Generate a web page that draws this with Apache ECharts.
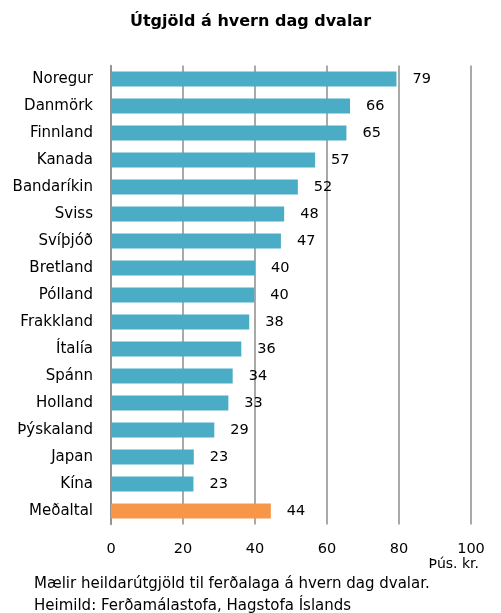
<!DOCTYPE html>
<html>
<head>
<meta charset="utf-8">
<script src="https://cdn.jsdelivr.net/npm/echarts@6/dist/echarts.min.js"></script>
<style>
  html, body { margin: 0; padding: 0; background: #fff; }
  #chart { width: 501px; height: 613px; }
</style>
</head>
<body>
<div id="chart"></div>
<script>
// flokkar, ofan frá og niður
var countries = ['Noregur', 'Danmörk', 'Finnland', 'Kanada', 'Bandaríkin', 'Sviss', 'Svíþjóð',
  'Bretland', 'Pólland', 'Frakkland', 'Ítalía', 'Spánn', 'Holland', 'Þýskaland', 'Japan', 'Kína', 'Meðaltal'];
// þús. kr. á dag (lesið af myndinni)
var values = [79.3, 66.4, 65.4, 56.7, 51.9, 48.1, 47.2, 40.0, 39.8, 38.4, 36.2, 33.8, 32.6, 28.7, 23.0, 22.9, 44.4];
var xTicks = [0, 20, 40, 60, 80, 100];

var FONT = 'DejaVu Sans';
var blue = '#4BACC6', orange = '#F79646', gridGray = '#8c8c8c';

var chart = echarts.init(document.getElementById('chart'));

// ECharts teiknar flokkaás neðan frá, snúum við
var cats = countries.slice().reverse();
var data = values.slice().reverse().map(function (v, i) {
  var name = cats[i];
  return {
    value: v,
    itemStyle: { color: name === 'Meðaltal' ? orange : blue }
  };
});

chart.setOption({
  animation: false,
  textStyle: { fontFamily: FONT },
  title: [{
    text: 'Útgjöld á hvern dag dvalar',
    left: 'center',
    top: 9,
    textStyle: { fontFamily: FONT, fontSize: 16, fontWeight: 'bold', color: '#000' }
  }, {
    text: 'Þús. kr.',
    right: 17,
    top: 552,
    textStyle: { fontFamily: FONT, fontSize: 14, fontWeight: 'normal', color: '#000' }
  }, {
    text: 'Mælir heildarútgjöld til ferðalaga á hvern dag dvalar.\nHeimild: Ferðamálastofa, Hagstofa Íslands',
    left: 29,
    top: 568,
    textStyle: { fontFamily: FONT, fontSize: 15, fontWeight: 'normal', color: '#000', lineHeight: 22 }
  }],
  grid: { left: 111, right: 30, top: 65.5, bottom: 88.5, containLabel: false },
  xAxis: {
    type: 'value',
    min: 0,
    max: 100,
    interval: 20,
    axisLine: { show: false },
    axisTick: { show: false },
    splitLine: { show: true, lineStyle: { color: gridGray, width: 1.5 } },
    axisLabel: {
      margin: 17,
      fontFamily: FONT,
      fontSize: 14.5,
      color: '#000',
      formatter: function (v) { return xTicks.indexOf(v) >= 0 ? String(v) : ''; }
    }
  },
  yAxis: {
    type: 'category',
    data: cats,
    axisLine: { show: true, lineStyle: { color: gridGray, width: 1.5 } },
    axisTick: { show: false },
    axisLabel: { margin: 18, fontFamily: FONT, fontSize: 15, color: '#000' }
  },
  series: [{
    type: 'bar',
    data: data,
    barWidth: 15,
    label: {
      show: true,
      position: 'right',
      distance: 16,
      fontFamily: FONT,
      fontSize: 14.5,
      color: '#000',
      formatter: function (p) { return Math.round(p.value); }
    }
  }]
});
</script>
</body>
</html>
